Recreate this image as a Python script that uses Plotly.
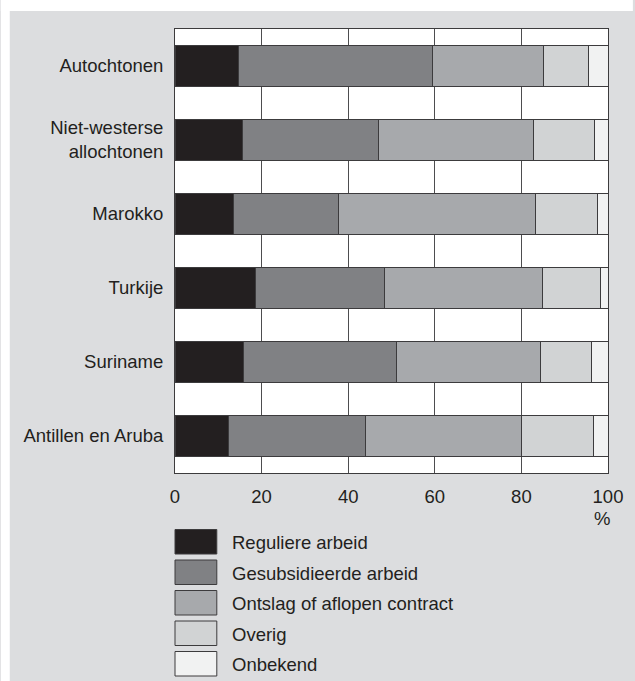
import plotly.graph_objects as go

categories = ["Autochtonen", "Niet-westerse<br>allochtonen", "Marokko", "Turkije", "Suriname", "Antillen en Aruba"]
series_names = ["Reguliere arbeid", "Gesubsidieerde arbeid", "Ontslag of aflopen contract", "Overig", "Onbekend"]
reguliere = [14.6, 15.7, 13.4, 18.5, 15.8, 12.3]
gesubsidieerd = [44.9, 31.2, 24.3, 29.8, 35.4, 31.8]
ontslag = [25.5, 35.9, 45.6, 36.5, 33.3, 36.0]
overig = [10.6, 14.1, 14.2, 13.5, 11.6, 16.5]
onbekend = [4.4, 3.1, 2.5, 1.7, 3.9, 3.4]
x_ticks = [0, 20, 40, 60, 80, 100]

colors = ["#231f20", "#808184", "#a7a9ac", "#d1d3d4", "#f1f2f2"]
edge = "#3c3b3d"
text_color = "#231f20"
panel = "#dcdddf"
FONT = "Liberation Sans, Arial, Helvetica, sans-serif"
FS = 18.5

W, H = 635, 681
ML, MR, MT, MB = 175, 25, 29, 208
PW, PH = W - ML - MR, H - MT - MB

def px_x(p):
    return (p - ML) / PW

def px_y(p):
    return (H - MB - p) / PH

fig = go.Figure()
for name, vals, col in zip(series_names, [reguliere, gesubsidieerd, ontslag, overig, onbekend], colors):
    fig.add_trace(go.Bar(
        y=categories, x=vals, name=name, orientation="h",
        marker=dict(color=col, line=dict(color=edge, width=1)),
        showlegend=False, hoverinfo="x+name",
    ))

shapes = [
    # white strips outside the grey panel
    dict(type="rect", xref="paper", yref="paper", x0=px_x(0), x1=px_x(W), y0=px_y(11), y1=px_y(0),
         fillcolor="white", line=dict(width=0), layer="below"),
    dict(type="rect", xref="paper", yref="paper", x0=px_x(0), x1=px_x(9), y0=px_y(H), y1=px_y(0),
         fillcolor="white", line=dict(width=0), layer="below"),
]
annotations = []
box_tops = [529.5, 560, 590.5, 621, 651.5]
for name, col, top in zip(series_names, colors, box_tops):
    shapes.append(dict(type="rect", xref="paper", yref="paper",
                       x0=px_x(175), x1=px_x(217), y0=px_y(top + 24.5), y1=px_y(top),
                       fillcolor=col, line=dict(color=edge, width=1)))
    annotations.append(dict(text=name, xref="paper", yref="paper", x=px_x(230), y=px_y(top + 13),
                            xanchor="left", yanchor="middle", showarrow=False,
                            font=dict(size=FS, color=text_color, family=FONT)))
annotations.append(dict(text="%", xref="paper", yref="paper", x=px_x(604), y=px_y(518),
                        xanchor="center", yanchor="middle", showarrow=False,
                        font=dict(size=FS, color=text_color, family=FONT)))

fig.update_layout(
    width=W, height=H,
    margin=dict(l=ML, r=MR, t=MT, b=MB, pad=0),
    barmode="stack", bargap=0.44,
    paper_bgcolor=panel, plot_bgcolor="white",
    font=dict(family=FONT, size=FS, color=text_color),
    shapes=shapes, annotations=annotations,
    xaxis=dict(range=[0, 100], tickvals=x_ticks, ticktext=[str(t) for t in x_ticks],
               showgrid=True, gridcolor="#4d4d4f", gridwidth=1, zeroline=False,
               showline=True, linecolor=edge, linewidth=1, mirror=True,
               ticks="", ticklabelstandoff=7, tickfont=dict(size=FS, color=text_color),
               fixedrange=True),
    yaxis=dict(categoryorder="array", categoryarray=categories, autorange="reversed",
               showgrid=False, zeroline=False, showline=True, linecolor=edge, linewidth=1, mirror=True,
               ticks="", ticklabelstandoff=7, tickfont=dict(size=FS, color=text_color),
               fixedrange=True),
)

fig.write_html(
    "out.html",
    config={"displayModeBar": False},
    post_script="document.body.style.margin='0';document.body.style.overflow='hidden';",
)
